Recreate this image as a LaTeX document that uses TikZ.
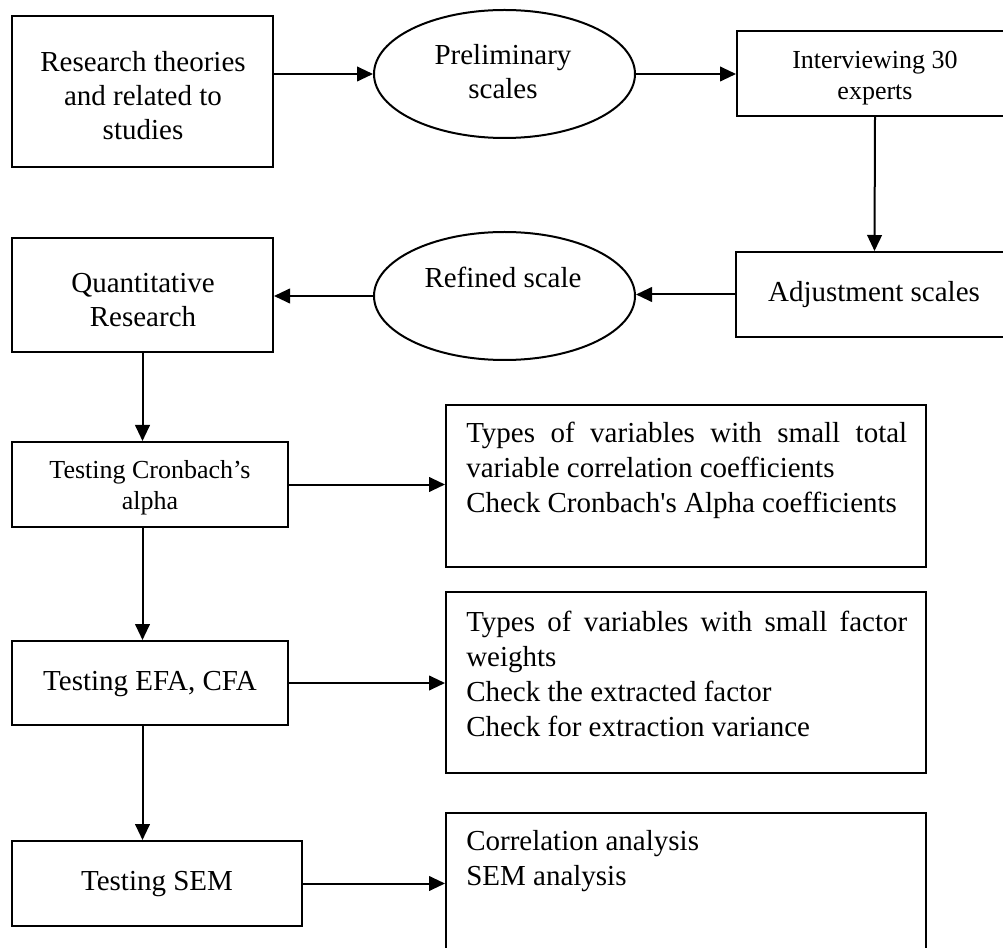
\documentclass[tikz,border=0pt]{standalone}
\usepackage{fontspec}
\setmainfont{Liberation Serif}
\usetikzlibrary{arrows.meta,shapes.geometric}
\newcommand\cenlines[1]{\begin{tabular}{@{}c@{}}#1\end{tabular}}
\newcommand\leftpar[1]{\parbox{330.75pt}{\raggedright #1}}
\tikzset{
  box/.style={draw, line width=1.5pt, rectangle, inner sep=0pt},
  oval/.style={draw, line width=1.5pt, ellipse, inner sep=0pt, minimum width=195.75pt, minimum height=96pt},
  arr/.style={line width=1.5pt, -{Triangle[length=12pt,width=11pt]}},
  big/.style={inner sep=0pt, font=\fontsize{21.75pt}{25.5pt}\selectfont},
  small/.style={inner sep=0pt, font=\fontsize{19.5pt}{23pt}\selectfont},
  para/.style={inner sep=0pt, anchor=west, font=\fontsize{21.75pt}{26.25pt}\selectfont}
}
\begin{document}
\begin{tikzpicture}[x=0.75pt,y=-0.75pt]
\useasboundingbox (0,0) rectangle (1003,948);
% shapes
\node[box, minimum width=195.75pt, minimum height=113.25pt] (b1) at (142.5,91.5) {};
\node[oval] (e1) at (504.5,74) {};
\node[box, minimum width=207pt, minimum height=63.75pt] (b3) at (875,73.5) {};
\node[box, minimum width=207.75pt, minimum height=63.75pt] (b4) at (874.5,294.5) {};
\node[oval] (e2) at (504.5,296) {};
\node[box, minimum width=195.75pt, minimum height=85.5pt] (b6) at (142.5,295) {};
\node[box, minimum width=207pt, minimum height=63.75pt] (b7) at (150,484.5) {};
\node[box, minimum width=207pt, minimum height=63pt] (b9) at (150,683) {};
\node[box, minimum width=217.5pt, minimum height=63.75pt] (b11) at (157,883.5) {};
\node[box, minimum width=360pt, minimum height=121.5pt] (r1) at (686,486) {};
\node[box, minimum width=360pt, minimum height=135.75pt] (r2) at (686,682.5) {};
\node[box, minimum width=360pt, minimum height=110.25pt] (r3) at (686,886.5) {};
% texts
\node[big] (t1) at (143,99) {\cenlines{Research theories\\and related to\\studies}};
\node[big] (te1) at (503,75) {\cenlines{Preliminary\\scales}};
\node[small] (t3) at (875,78) {\cenlines{Interviewing 30\\experts}};
\node[big] (t4) at (874,295) {Adjustment scales};
\node[big] (te2) at (503,277) {Refined scale};
\node[big] (t6) at (143,303) {\cenlines{Quantitative\\Research}};
\node[small] (t7) at (150,488) {\cenlines{Testing Cronbach’s\\alpha}};
\node[big] (t9) at (150,684) {Testing EFA, CFA};
\node[big] (t11) at (157,884) {Testing SEM};
\node[para] (p1) at (466,470) {\leftpar{\makebox[330.75pt][s]{Types of variables with small total}\\variable correlation coefficients\\Check Cronbach\textquotesingle s Alpha coefficients}};
\node[para] (p2) at (466,674) {\leftpar{\makebox[330.75pt][s]{Types of variables with small factor}\\weights\\Check the extracted factor\\Check for extraction variance}};
\node[para] (p3) at (466,861) {\leftpar{Correlation analysis\\SEM analysis}};
% connectors
\draw[arr] (b1.east |- e1.west) -- (e1.west);
\draw[arr] (e1.east) -- (e1.east -| b3.west);
\draw[arr] (b3.south) -- (b4.north);
\draw[arr] (b4.west) -- (b4.west -| e2.east);
\draw[arr] (e2.west) -- (e2.west -| b6.east);
\draw[arr] (b6.south) -- (b6.south |- b7.north);
\draw[arr] (b7.south -| b6.south) -- (b9.north -| b6.south);
\draw[arr] (b9.south -| b6.south) -- (b11.north -| b6.south);
\draw[arr] (b7.east) -- (b7.east -| r1.west);
\draw[arr] (b9.east) -- (b9.east -| r2.west);
\draw[arr] (b11.east) -- (b11.east -| r3.west);
\end{tikzpicture}
\end{document}
